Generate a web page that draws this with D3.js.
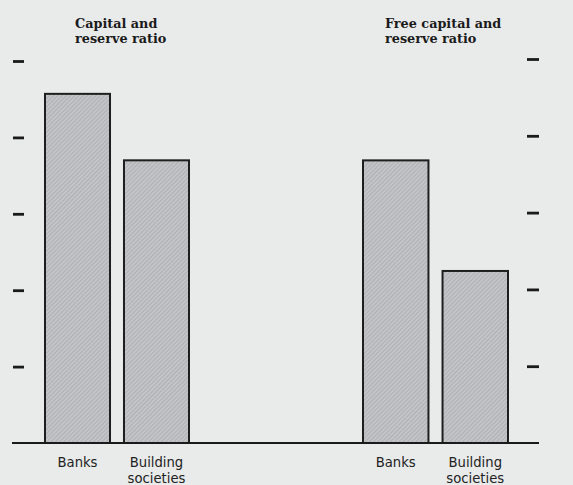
<!DOCTYPE html>
<html>
<head>
<meta charset="utf-8">
<script src="https://cdn.jsdelivr.net/npm/d3@7"></script>
<style>
  html, body { margin: 0; padding: 0; background: #e9eaea; }
  svg { display: block; }
</style>
</head>
<body>
<svg width="573" height="485"></svg>
<script>
  var categories = ["Banks", "Building societies"]
  var capitalRatio = [4.57, 3.70]
  var freeCapitalRatio = [3.68, 2.24]
  var tickValues = [1, 2, 3, 4, 5]
  var titles = [["Capital and", "reserve ratio"], ["Free capital and", "reserve ratio"]]

  var width = 573, height = 485
  var baseY = 443

  var svg = d3.select("svg")

  // hatch pattern for the grey bars
  var defs = svg.append("defs")
  var pat = defs.append("pattern")
    .attr("id", "hatch")
    .attr("patternUnits", "userSpaceOnUse")
    .attr("width", 3).attr("height", 3)
    .attr("patternTransform", "rotate(45)")
  pat.append("rect").attr("width", 3).attr("height", 3).attr("fill", "#c3c4c8")
  pat.append("rect").attr("width", 1).attr("height", 3).attr("fill", "#aeb0b4")

  var yLeft = d3.scaleLinear().domain([0, 5]).range([baseY, 61])
  var yRight = d3.scaleLinear().domain([0, 5]).range([baseY, 59])

  var panels = [
    {values: capitalRatio, x: d3.scaleBand().domain(categories).range([45, 189]).paddingInner(0.177), y: yLeft, title: titles[0], tx: 75},
    {values: freeCapitalRatio, x: d3.scaleBand().domain(categories).range([363, 508]).paddingInner(0.177), y: yRight, title: titles[1], tx: 385}
  ]

  // tick marks only, no labels
  svg.append("g")
    .attr("transform", "translate(24,0)")
    .call(d3.axisLeft(yLeft).tickValues(tickValues).tickSize(11).tickFormat(""))
    .call(g => g.select(".domain").remove())
    .call(g => g.selectAll("line").attr("stroke", "#1a1a1a").attr("stroke-width", 2.8))

  svg.append("g")
    .attr("transform", "translate(527,0)")
    .call(d3.axisRight(yRight).tickValues(tickValues).tickSize(12).tickFormat(""))
    .call(g => g.select(".domain").remove())
    .call(g => g.selectAll("line").attr("stroke", "#1a1a1a").attr("stroke-width", 2.8))

  panels.forEach(p => {
    var data = categories.map((c, i) => ({cat: c, value: p.values[i]}))

    svg.append("g")
      .selectAll("rect")
      .data(data)
      .join("rect")
      .attr("x", d => p.x(d.cat))
      .attr("y", d => p.y(d.value))
      .attr("width", p.x.bandwidth())
      .attr("height", d => baseY - p.y(d.value))
      .attr("fill", "url(#hatch)")
      .attr("stroke", "#1e1e1e")
      .attr("stroke-width", 2)

    svg.append("g")
      .attr("font-family", "'DejaVu Serif', serif")
      .attr("font-weight", "bold")
      .attr("font-size", 12.8)
      .attr("fill", "#1a1a1a")
      .selectAll("text")
      .data(p.title)
      .join("text")
      .attr("x", p.tx)
      .attr("y", (d, i) => 28 + i * 15)
      .text(d => d)

    svg.append("g")
      .attr("font-family", "'DejaVu Sans', sans-serif")
      .attr("font-size", 13.2)
      .attr("fill", "#222")
      .attr("text-anchor", "middle")
      .selectAll("text")
      .data(data)
      .join("text")
      .attr("x", d => p.x(d.cat) + p.x.bandwidth() / 2)
      .attr("y", 467)
      .selectAll("tspan")
      .data(d => d.cat === "Banks" ? ["Banks"] : ["Building", "societies"])
      .join("tspan")
      .attr("x", function() { return d3.select(this.parentNode).attr("x") })
      .attr("dy", (d, i) => i === 0 ? 0 : 15.5)
      .text(d => d)
  })

  svg.append("line")
    .attr("x1", 12).attr("x2", 539)
    .attr("y1", baseY).attr("y2", baseY)
    .attr("stroke", "#1a1a1a")
    .attr("stroke-width", 2)
</script>
</body>
</html>
